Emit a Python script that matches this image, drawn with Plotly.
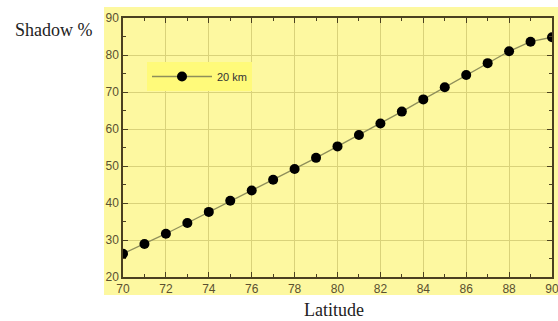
import plotly.graph_objects as go

latitude = list(range(70, 91))
shadow_pct = [26.3, 28.9, 31.7, 34.6, 37.6, 40.6, 43.4, 46.3, 49.2, 52.2,
              55.3, 58.4, 61.5, 64.7, 68.0, 71.3, 74.6, 77.8, 81.0, 83.6, 84.8]
series_name = "20 km"
x_ticks = list(range(70, 91, 2))
y_ticks = list(range(20, 91, 10))

tick_col = "#5a5030"
fig = go.Figure()
fig.add_trace(go.Scatter(
    x=latitude, y=shadow_pct, name=series_name, mode="lines+markers",
    line=dict(color="#8f8f5a", width=1.3),
    marker=dict(color="black", size=10),
))

W, H = 558, 321
ml, mr, mt, mb = 123, 6, 18, 44
pw, ph = W - ml - mr, H - mt - mb

def px(x):
    return (x - ml) / pw

def py(y):
    return (H - mb - y) / ph

fig.add_shape(type="rect", xref="paper", yref="paper",
              x0=px(104), x1=px(560), y0=py(295), y1=py(7),
              fillcolor="#fdf8a0", line=dict(width=0), layer="below")

axis_common = dict(
    showline=True, linecolor="#4a4020", linewidth=1.5, mirror="allticks",
    ticks="inside", ticklen=5, tickcolor="#4a4020", tickwidth=1,
    showgrid=True, gridcolor="#d9d27a", gridwidth=1, zeroline=False,
    automargin=False, ticklabeloverflow="allow",
    tickfont=dict(family="Liberation Sans, Arial", size=12, color=tick_col),
)
fig.update_xaxes(range=[70, 90], tickvals=x_ticks,
                 minor=dict(dtick=1, ticks="inside", ticklen=3, tickcolor="#4a4020", showgrid=False),
                 **axis_common)
fig.update_yaxes(range=[20, 90], tickvals=y_ticks,
                 minor=dict(dtick=5, ticks="inside", ticklen=3, tickcolor="#4a4020", showgrid=False),
                 **axis_common)

fig.add_annotation(text="Shadow %", xref="paper", yref="paper", x=px(54), y=py(30),
                   xanchor="center", yanchor="middle",
                   showarrow=False, font=dict(family="Liberation Serif, Times New Roman", size=18, color="#222"))
fig.add_annotation(text="Latitude", xref="paper", yref="paper", x=px(334), y=py(310),
                   xanchor="center", yanchor="middle",
                   showarrow=False, font=dict(family="Liberation Serif, Times New Roman", size=18, color="#222"))

fig.update_layout(
    width=W, height=H, margin=dict(l=ml, r=mr, t=mt, b=mb),
    paper_bgcolor="white", plot_bgcolor="#fbf38e",
    showlegend=True,
    legend=dict(x=px(147), y=py(62), xanchor="left", yanchor="top",
                bgcolor="#fffa7a", borderwidth=0, itemwidth=60,
                font=dict(family="Liberation Sans, Arial", size=11, color="#333")),
)
fig.write_html("out.html",
               config=dict(displayModeBar=False, responsive=False),
               post_script="document.body.style.margin='0px';document.body.style.overflow='hidden';")
